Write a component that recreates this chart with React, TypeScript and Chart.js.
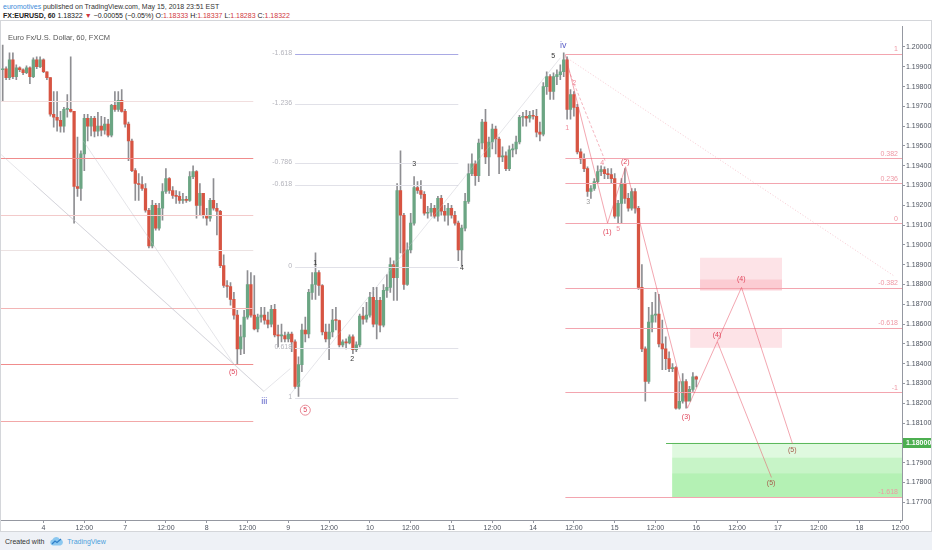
import { useEffect, useRef } from "react";
import { Chart, registerables } from "chart.js";

Chart.register(...registerables);

const FONT = '"Liberation Sans", Arial, sans-serif';
const UP = "#6ba583";
const DOWN = "#d75442";
const WICK = "#8e8e92";

// EUR/USD 60 min (FXCM), one bar per hour, open = previous close
const firstOpen = 1.19885;
const closes = [
  1.1989, 1.19845, 1.19935, 1.1985, 1.19895, 1.19885, 1.1987, 1.19895, 1.1985, 1.19935,
  1.199, 1.19935, 1.19875, 1.19845, 1.1966, 1.19645, 1.1963, 1.196, 1.19685, 1.19685,
  1.19675, 1.19295, 1.19285, 1.1946, 1.1964, 1.196, 1.1964, 1.19575, 1.196, 1.1958,
  1.1961, 1.19555, 1.19705, 1.19685, 1.1973, 1.19675, 1.1961, 1.19525, 1.19375, 1.1931,
  1.19305, 1.19285, 1.19175, 1.18995, 1.192, 1.19085, 1.19185, 1.1927, 1.19335, 1.19275,
  1.1925, 1.19245, 1.19225, 1.19228, 1.19225, 1.19345, 1.1937, 1.192, 1.1926, 1.1915,
  1.19135, 1.19225, 1.19185, 1.1917, 1.18895, 1.18795, 1.1879, 1.18725, 1.18645, 1.18475,
  1.18535, 1.18635, 1.188, 1.18645, 1.18575, 1.18635, 1.18645, 1.1862, 1.186, 1.18675,
  1.18545, 1.1854, 1.18542, 1.18525, 1.1855, 1.1851, 1.18285, 1.18395, 1.1857, 1.1855,
  1.1876, 1.188, 1.1886, 1.18795, 1.1856, 1.18525, 1.1856, 1.1862, 1.18618, 1.18495,
  1.1851, 1.18505, 1.18535, 1.1847, 1.18495, 1.1864, 1.18625, 1.18645, 1.18735, 1.186,
  1.1872, 1.18595, 1.1877, 1.18785, 1.189, 1.18835, 1.19275, 1.1915, 1.188, 1.18975,
  1.1911, 1.1929, 1.19275, 1.19255, 1.1916, 1.19165, 1.19185, 1.19145, 1.19235, 1.1917,
  1.1915, 1.19185, 1.1915, 1.1911, 1.18975, 1.19085, 1.1922, 1.1936, 1.1941, 1.1935,
  1.19515, 1.1962, 1.19445, 1.1952, 1.19585, 1.19535, 1.19445, 1.1945, 1.19385, 1.1948,
  1.19485, 1.1952, 1.19645, 1.1965, 1.1964, 1.19655, 1.1965, 1.1957, 1.1956, 1.198,
  1.1985, 1.19775, 1.1985, 1.1986, 1.19875, 1.19935, 1.19685, 1.1976, 1.19695, 1.1947,
  1.19435, 1.19385, 1.1927, 1.19285, 1.1932, 1.1937, 1.1938, 1.1936, 1.19355, 1.19335,
  1.19145, 1.1921, 1.1931, 1.19235, 1.19185, 1.1927, 1.19185, 1.18785, 1.18475, 1.1831,
  1.1861, 1.18645, 1.1865, 1.185, 1.18475, 1.18425, 1.18375, 1.1838, 1.18175, 1.1821,
  1.1831, 1.1821, 1.1827, 1.18333, 1.18322,
];
const highs = [
  1.2001, 1.199, 1.1997, 1.1997, 1.1991, 1.199, 1.1989, 1.19905, 1.199, 1.19945,
  1.1995, 1.1995, 1.1994, 1.19875, 1.19845, 1.19775, 1.19775, 1.19675, 1.19695, 1.1976,
  1.1995, 1.19675, 1.19545, 1.19475, 1.1966, 1.1966, 1.1965, 1.1965, 1.1967, 1.1965,
  1.19645, 1.19635, 1.1971, 1.19775, 1.19775, 1.19785, 1.19685, 1.1962, 1.19535, 1.19385,
  1.1936, 1.19345, 1.1931, 1.19185, 1.19225, 1.1921, 1.1921, 1.1931, 1.19385, 1.1934,
  1.19295, 1.19275, 1.1927, 1.1926, 1.19245, 1.1937, 1.194, 1.19375, 1.1931, 1.1926,
  1.19185, 1.19235, 1.19335, 1.1921, 1.19175, 1.1895, 1.1882, 1.1881, 1.1876, 1.1867,
  1.18595, 1.1867, 1.1887, 1.1886, 1.18845, 1.1865, 1.18685, 1.18685, 1.1866, 1.18695,
  1.187, 1.18595, 1.186, 1.1856, 1.1856, 1.1856, 1.1852, 1.18435, 1.186, 1.18635,
  1.18775, 1.1886, 1.1896, 1.1887, 1.188, 1.186, 1.186, 1.18675, 1.18685, 1.1862,
  1.1852, 1.18525, 1.18545, 1.18545, 1.1851, 1.1865, 1.18685, 1.1871, 1.1876, 1.18785,
  1.18785, 1.18735, 1.188, 1.1885, 1.18935, 1.1892, 1.1931, 1.19475, 1.1916, 1.1901,
  1.1916, 1.19345, 1.1932, 1.19325, 1.1927, 1.19195, 1.1921, 1.192, 1.19245, 1.1925,
  1.192, 1.1921, 1.192, 1.1917, 1.1912, 1.191, 1.1926, 1.1941, 1.1946, 1.19425,
  1.19535, 1.19635, 1.19685, 1.19545, 1.1961, 1.196, 1.19545, 1.19495, 1.1947, 1.195,
  1.1951, 1.1955, 1.19655, 1.1967, 1.1968, 1.19675, 1.1968, 1.19685, 1.1962, 1.1982,
  1.19875, 1.1986, 1.1987, 1.19885, 1.1991, 1.1997, 1.1995, 1.19785, 1.19775, 1.1971,
  1.19485, 1.1946, 1.19395, 1.193, 1.19335, 1.194, 1.194, 1.19395, 1.19385, 1.19385,
  1.1936, 1.19225, 1.19335, 1.19385, 1.1926, 1.19285, 1.19285, 1.19195, 1.189, 1.18485,
  1.18685, 1.1871, 1.1876, 1.1875, 1.1862, 1.18535, 1.1846, 1.184, 1.18385, 1.1831,
  1.1835, 1.1832, 1.18285, 1.18355, 1.18337,
];
const lows = [
  1.19725, 1.19835, 1.19835, 1.1984, 1.19835, 1.19875, 1.1986, 1.19865, 1.19815, 1.19845,
  1.1989, 1.19895, 1.1987, 1.19835, 1.1965, 1.19595, 1.19575, 1.1957, 1.1957, 1.19645,
  1.1967, 1.1911, 1.19245, 1.19225, 1.19375, 1.19525, 1.1955, 1.19545, 1.1955, 1.1955,
  1.1956, 1.19545, 1.19545, 1.19675, 1.19675, 1.1967, 1.19595, 1.19425, 1.1937, 1.19225,
  1.19225, 1.19275, 1.19165, 1.18985, 1.18985, 1.19075, 1.19075, 1.19125, 1.1926, 1.1926,
  1.19235, 1.1921, 1.1921, 1.1921, 1.19215, 1.1922, 1.19335, 1.19135, 1.1915, 1.19135,
  1.191, 1.1912, 1.19175, 1.1905, 1.18885, 1.18785, 1.18735, 1.18695, 1.18625, 1.18395,
  1.18445, 1.1845, 1.18625, 1.18635, 1.1857, 1.1856, 1.1861, 1.186, 1.1858, 1.18585,
  1.18535, 1.18485, 1.1851, 1.1851, 1.1851, 1.1846, 1.18275, 1.18235, 1.1836, 1.1851,
  1.1853, 1.18725, 1.18725, 1.18745, 1.18545, 1.1851, 1.1842, 1.18535, 1.1857, 1.18485,
  1.18485, 1.18475, 1.185, 1.1845, 1.1846, 1.18485, 1.186, 1.1861, 1.18635, 1.18585,
  1.18525, 1.1856, 1.18585, 1.18735, 1.1876, 1.1872, 1.1872, 1.1896, 1.18775, 1.18795,
  1.1896, 1.191, 1.1926, 1.19235, 1.1915, 1.19135, 1.19145, 1.19135, 1.1912, 1.1915,
  1.1912, 1.191, 1.19135, 1.191, 1.1892, 1.18895, 1.1907, 1.1921, 1.1935, 1.193,
  1.1932, 1.19485, 1.1941, 1.1935, 1.19485, 1.1946, 1.1936, 1.1942, 1.19375, 1.19375,
  1.19445, 1.1946, 1.1951, 1.196, 1.196, 1.1962, 1.19635, 1.19545, 1.19525, 1.1955,
  1.1976, 1.19735, 1.19735, 1.1981, 1.19835, 1.1985, 1.19635, 1.19635, 1.1965, 1.1946,
  1.1941, 1.1937, 1.19245, 1.19235, 1.19275, 1.1931, 1.1935, 1.19335, 1.19335, 1.1931,
  1.19135, 1.1911, 1.1911, 1.1921, 1.1917, 1.19175, 1.1916, 1.18775, 1.1846, 1.1821,
  1.183, 1.1856, 1.1861, 1.18485, 1.1837, 1.1837, 1.1836, 1.1836, 1.1817, 1.1817,
  1.182, 1.18175, 1.1822, 1.1826, 1.18283,
];
const opens = [firstOpen, ...closes.slice(0, -1)];

// time axis: hourly slots from May 3 12:00 to May 18 12:00
const slotCount = 265;
const firstDaySlot = 12;
const dayLabels = ["4", "7", "8", "9", "10", "11", "14", "15", "16", "17", "18"];
const priceTicks = [
  1.177, 1.178, 1.179, 1.18, 1.181, 1.182, 1.183, 1.184, 1.185, 1.186, 1.187, 1.188,
  1.189, 1.19, 1.191, 1.192, 1.193, 1.194, 1.195, 1.196, 1.197, 1.198, 1.199, 1.2,
];
const priceMin = 1.1761;
const priceMax = 1.20105;

// drawings (bar index, price)
const leftFibEnd = 73.7;
const leftFibPrices = [1.19725, 1.1944, 1.1915, 1.18975, 1.1868, 1.184, 1.1811];
const midFibSpan = [86, 134];
const midFibZero = 1.1889;
const midFibOne = 1.18225;
const midFibLevels = [-1.618, -1.236, -0.786, -0.618, 0, 0.618, 1];
const rightFibStart = 165.5;
const rightFibZero = 1.1911;
const rightFibOne = 1.19965;
const rightFibLevels = [1, 0.382, 0.236, 0, -0.382, -0.618, -1, -1.618];
const targetLevel = 1.18;
const targetLineStart = 195.1;
const greenZone = [
  [196.9, 1.18, 1.17725],
  [196.9, 1.17925, 1.17725],
  [196.9, 1.17845, 1.17725],
];
const pinkBoxes = [
  [205.1, 229.2, 1.18935, 1.1877],
  [205.1, 229.2, 1.18825, 1.1877],
  [202.2, 229.2, 1.1858, 1.1848],
];
const projectionA = [[165.5, 1.1996], [177.9, 1.1911], [183.2, 1.19395], [201.4, 1.18175], [217.3, 1.18785], [232.3, 1.17995]];
const projectionB = [[210.2, 1.1851], [226.1, 1.17825]];
const subWave = [[166.4, 1.19885], [177.3, 1.1942]];
const ivTrend = [[165.5, 1.1995], [262, 1.18845]];
const greyPaths = [
  [[-0.7, 1.1946], [67.9, 1.184]],
  [[23.7, 1.19525], [67.9, 1.184]],
  [[9, 1.1931], [76.8, 1.1826], [84.6, 1.18375]],
  [[67.9, 1.184], [76.8, 1.1826]],
  [[84.6, 1.18245], [164, 1.19945]],
];
const blueLabels: [string, number, number][] = [["iv", 164.9, 1.20005], ["iii", 76.9, 1.1821]];
const darkLabels: [string, number, number][] = [
  ["5", 161.9, 1.19955], ["1", 91.9, 1.1891], ["2", 102.8, 1.18425], ["3", 121, 1.1941], ["4", 135.1, 1.18885],
];
const redLabels: [string, number, number][] = [
  ["(1)", 177.8, 1.19065], ["(2)", 183.1, 1.1942], ["(3)", 201, 1.1813],
  ["(4)", 217.2, 1.18825], ["(4)", 210.1, 1.18545], ["(5)", 67.8, 1.1836],
];
const pinkLabels: [string, number, number][] = [["2", 168.1, 1.1982], ["1", 166, 1.1959], ["4", 176.3, 1.19415], ["5", 181, 1.1908]];
const greyLabels: [string, number, number][] = [["3", 172.2, 1.19215]];
const brownLabels: [string, number, number][] = [["(5)", 232.2, 1.17965], ["(5)", 226, 1.17795]];
const circledLabels: [string, number, number][] = [["5", 89, 1.18165]];

function tickText(i: number) {
  if (i >= firstDaySlot && (i - firstDaySlot) % 24 === 0) return dayLabels[(i - firstDaySlot) / 24] ?? "";
  if (i > 0 && i % 24 === 0) return "12:00";
  return "";
}

const leftFibColors = ["#f1dede", "#f08c8c", "#f3caca", "#ece2e2", "#f3b5b5", "#f08c8c", "#f2a8a8"];

const drawings = {
  id: "drawings",
  afterDatasetsDraw(chart: any) {
    const { ctx, chartArea: a } = chart;
    const xs = chart.scales.x;
    const ys = chart.scales.y;
    const px = (i: number) => xs.getPixelForValue(i);
    const py = (p: number) => ys.getPixelForValue(p);
    const hy = (p: number) => Math.round(py(p)) + 0.5;
    const lastSlot = slotCount - 0.5;

    const hline = (i0: number, i1: number, p: number, color: string) => {
      ctx.strokeStyle = color;
      ctx.lineWidth = 1;
      ctx.beginPath();
      ctx.moveTo(px(i0), hy(p));
      ctx.lineTo(px(i1), hy(p));
      ctx.stroke();
    };
    const path = (pts: number[][], color: string, dash: number[] = []) => {
      ctx.strokeStyle = color;
      ctx.lineWidth = 1;
      ctx.setLineDash(dash);
      ctx.beginPath();
      pts.forEach(([i, p], k) => (k ? ctx.lineTo(px(i), py(p)) : ctx.moveTo(px(i), py(p))));
      ctx.stroke();
      ctx.setLineDash([]);
    };
    const box = (i0: number, i1: number, p0: number, p1: number, fill: string) => {
      ctx.fillStyle = fill;
      ctx.fillRect(px(i0), py(p0), px(i1) - px(i0), py(p1) - py(p0));
    };
    const text = (t: string, i: number, p: number, color: string) => {
      ctx.fillStyle = color;
      ctx.textAlign = "center";
      ctx.textBaseline = "middle";
      ctx.fillText(t, px(i), py(p));
    };

    ctx.save();
    ctx.beginPath();
    ctx.rect(a.left, a.top, a.right - a.left, a.bottom - a.top);
    ctx.clip();
    ctx.font = `7px ${FONT}`;

    // zones
    greenZone.forEach(([i0, p0, p1]) => box(i0, lastSlot, p0, p1, "rgba(120,230,120,0.24)"));
    pinkBoxes.forEach(([i0, i1, p0, p1]) => box(i0, i1, p0, p1, "rgba(242,90,110,0.17)"));

    // left fib
    leftFibPrices.forEach((p, k) => hline(-0.5, leftFibEnd, p, leftFibColors[k]));

    // middle fib
    midFibLevels.forEach((lv) => {
      const p = midFibZero + lv * (midFibOne - midFibZero);
      hline(midFibSpan[0], midFibSpan[1], p, lv === -1.618 ? "#a9a9e4" : "#e1e1e8");
      ctx.fillStyle = "#b4b4bc";
      ctx.textAlign = "right";
      ctx.textBaseline = "middle";
      ctx.fillText(String(lv), px(midFibSpan[0]) - 3, py(p) - 1);
    });

    // right fib
    rightFibLevels.forEach((lv) => {
      const p = rightFibZero + lv * (rightFibOne - rightFibZero);
      hline(rightFibStart, lastSlot, p, "#f3a5af");
      ctx.fillStyle = "#ee98a4";
      ctx.textAlign = "right";
      ctx.textBaseline = "bottom";
      ctx.fillText(String(lv), a.right - 4, py(p) - 1);
    });

    hline(targetLineStart, lastSlot, targetLevel, "#5cb85c");

    // wave paths
    greyPaths.forEach((pts) => path(pts, "rgba(190,190,200,0.4)"));
    path(ivTrend, "rgba(240,150,165,0.5)", [1, 2]);
    path(subWave, "rgba(235,110,130,0.5)", [3, 2]);
    path(projectionA, "rgba(232,80,100,0.5)");
    path(projectionB, "rgba(232,80,100,0.5)");

    // wave labels
    ctx.font = `9px ${FONT}`;
    blueLabels.forEach(([t, i, p]) => text(t, i, p, "#5b5fc7"));
    ctx.font = `7px ${FONT}`;
    darkLabels.forEach(([t, i, p]) => text(t, i, p, "#333"));
    redLabels.forEach(([t, i, p]) => text(t, i, p, "#e0445a"));
    pinkLabels.forEach(([t, i, p]) => text(t, i, p, "#f08a9a"));
    greyLabels.forEach(([t, i, p]) => text(t, i, p, "#9a9a9a"));
    brownLabels.forEach(([t, i, p]) => text(t, i, p, "#a65a4a"));
    circledLabels.forEach(([t, i, p]) => {
      text(t, i, p, "#e0445a");
      ctx.strokeStyle = "#e88a96";
      ctx.beginPath();
      ctx.arc(px(i), py(p), 5, 0, Math.PI * 2);
      ctx.stroke();
    });

    // symbol title
    ctx.font = `7.5px ${FONT}`;
    ctx.fillStyle = "#555";
    ctx.textAlign = "left";
    ctx.textBaseline = "middle";
    ctx.fillText("Euro Fx/U.S. Dollar, 60, FXCM", a.left + 7, a.top + 12);
    ctx.restore();
  },
  afterDraw(chart: any) {
    const { ctx, chartArea: a } = chart;
    const y = Math.round(chart.scales.y.getPixelForValue(targetLevel));
    ctx.save();
    ctx.fillStyle = "#4caf50";
    ctx.fillRect(a.right + 1, y - 5, chart.width - a.right - 1, 10);
    ctx.fillStyle = "#fff";
    ctx.font = `bold 7px ${FONT}`;
    ctx.textAlign = "left";
    ctx.textBaseline = "middle";
    ctx.fillText(targetLevel.toFixed(5), a.right + 4, y);
    ctx.restore();
  },
};

function CandleChart() {
  const ref = useRef<HTMLCanvasElement>(null);
  useEffect(() => {
    const axisFont = { size: 7, family: FONT };
    const chart = new Chart(ref.current!, {
      type: "bar",
      data: {
        labels: Array.from({ length: slotCount }, (_, i) => String(i)),
        datasets: [
          {
            data: closes.map((c, k) => [opens[k], c]),
            backgroundColor: (c: any) => (c.raw && c.raw[1] < c.raw[0] ? DOWN : UP),
            barThickness: 2.6,
            minBarLength: 1,
            borderWidth: 0,
            grouped: false,
            order: 0,
          },
          {
            data: lows.map((l, k) => [l, highs[k]]),
            backgroundColor: WICK,
            barThickness: 1,
            borderWidth: 0,
            grouped: false,
            order: 1,
          },
        ],
      } as any,
      options: {
        responsive: false,
        animation: false,
        events: [],
        layout: { padding: 0 },
        plugins: { legend: { display: false }, tooltip: { enabled: false } },
        scales: {
          x: {
            type: "category",
            offset: true,
            grid: {
              offset: false,
              drawOnChartArea: false,
              tickLength: 3,
              color: (c: any) => (tickText(c.index) ? "#9598a1" : "rgba(0,0,0,0)"),
            },
            border: { color: "#9598a1" },
            ticks: {
              autoSkip: false,
              maxRotation: 0,
              minRotation: 0,
              padding: 1,
              font: axisFont,
              color: "#4c525e",
              callback: (_v: any, i: number) => tickText(i),
            },
            afterFit: (s: any) => {
              s.height = 11;
            },
          },
          y: {
            type: "linear",
            position: "right",
            min: priceMin,
            max: priceMax,
            bounds: "data",
            beginAtZero: false,
            afterBuildTicks: (s: any) => {
              s.ticks = priceTicks.map((v) => ({ value: v }));
            },
            grid: { drawOnChartArea: false, tickLength: 3, color: "#9598a1" },
            border: { color: "#9598a1" },
            ticks: {
              padding: 1,
              font: axisFont,
              color: "#4c525e",
              callback: (v: any) => Number(v).toFixed(5),
            },
            afterFit: (s: any) => {
              s.width = 29;
            },
          },
        },
      } as any,
      plugins: [drawings],
    });
    return () => chart.destroy();
  }, []);
  return <canvas ref={ref} width={930} height={510} style={{ display: "block" }} />;
}

const red = { color: "#d0393e" };

export default function App() {
  return (
    <div
      style={{
        position: "fixed",
        left: 0,
        top: 0,
        width: 932,
        height: 550,
        background: "#fff",
        fontFamily: FONT,
        overflow: "hidden",
      }}
    >
      <div style={{ position: "absolute", left: 3, top: 2, fontSize: 7, lineHeight: "9px", color: "#333", whiteSpace: "nowrap" }}>
        <span style={{ color: "#3d8bd9" }}>euromotives</span> published on TradingView.com, May 15, 2018 23:51 EST
      </div>
      <div style={{ position: "absolute", left: 3, top: 11, fontSize: 7, lineHeight: "9px", color: "#222", whiteSpace: "nowrap" }}>
        <b>FX:EURUSD, 60</b> 1.18322 <span style={red}>▼</span> −0.00055 (−0.05%) O:<span style={red}>1.18333</span> H:
        <span style={red}>1.18337</span> L:<span style={red}>1.18283</span> C:<span style={red}>1.18322</span>
      </div>
      <div
        style={{
          position: "absolute",
          left: 0,
          top: 20,
          width: 932,
          height: 512,
          border: "1px solid #d4d6da",
          boxSizing: "border-box",
        }}
      >
        <CandleChart />
      </div>
      <div
        style={{
          position: "absolute",
          left: 0,
          top: 532,
          width: 932,
          height: 18,
          background: "#eef1f6",
          display: "flex",
          alignItems: "center",
          fontSize: 7,
          color: "#333",
          whiteSpace: "nowrap",
        }}
      >
        <span style={{ marginLeft: 5 }}>Created with</span>
        <svg width="13" height="10" viewBox="0 0 13 10" style={{ marginLeft: 6 }}>
          <path d="M3 9.5 A3 3 0 0 1 2.5 3.6 A4 4 0 0 1 9.8 3.2 A3.2 3.2 0 0 1 10.5 9.5 Z" fill="#8cc8f0" />
          <path d="M2 8 L5 5 L7 6.5 L11 3" stroke="#2f7fc9" strokeWidth="1.3" fill="none" />
        </svg>
        <span style={{ marginLeft: 4, color: "#4a9fdc" }}>TradingView</span>
      </div>
    </div>
  );
}
